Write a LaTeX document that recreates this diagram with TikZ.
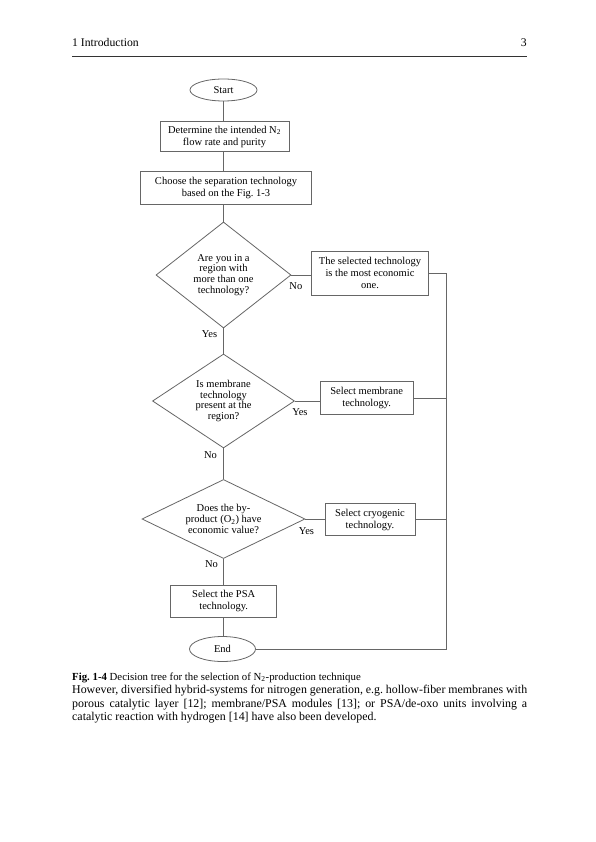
\documentclass[tikz,border=0pt]{standalone}
\usepackage{fontspec}
\setmainfont{Liberation Serif}
\frenchspacing
\usetikzlibrary{shapes.geometric,positioning}
\tikzset{
  flow/.style={draw=gray!80!black, line width=0.8pt},
  procbox/.style={flow, rectangle, align=center, inner sep=1pt,
    font=\fontsize{10.5}{12}\selectfont},
  decision/.style={flow, diamond, align=center, inner sep=0pt,
    font=\fontsize{10.5}{10.8}\selectfont},
  terminal/.style={flow, ellipse, inner sep=0pt,
    font=\fontsize{10.5}{12}\selectfont},
  answer/.style={inner sep=0pt, font=\fontsize{10.5}{12}\selectfont},
  pagetext/.style={inner sep=0pt, anchor=base west}
}
\begin{document}
\begin{tikzpicture}[x=1pt, y=-1pt]
    \useasboundingbox[fill=white] (0,0) rectangle (595,842);
    % running head
    \node[pagetext, font=\fontsize{11.7}{13}\selectfont] (head) at (72,47) {1 Introduction};
    \node[pagetext, anchor=base east, font=\fontsize{11.7}{13}\selectfont] (pageno) at (527,47) {3};
    \draw[line width=0.8pt, gray!40!black] (72,56) -- (527,56);
    % flowchart
    \node[terminal, minimum width=67pt, minimum height=22pt] (start) at (223.5,90) {Start};
    \node[procbox, minimum width=129pt, minimum height=30pt] (intent) at (224.5,136.7)
        {Determine the intended N\textsubscript{2}\\flow rate and purity};
    \node[procbox, minimum width=171pt, minimum height=33pt] (choose) at (226,188.3)
        {Choose the separation technology\\based on the Fig. 1-3};
    \node[decision, aspect=1.27, minimum width=135pt, minimum height=106pt] (region) at (223.5,275)
        {Are you in a\\region with\\more than one\\technology?};
    \node[procbox, minimum width=117pt, minimum height=44pt] (econ) at (370,273)
        {The selected technology\\is the most economic\\one.};
    \node[decision, aspect=1.48, minimum width=142pt, minimum height=94pt] (membq) at (223.5,401)
        {Is membrane\\technology\\present at the\\region?};
    \node[procbox, minimum width=93pt, minimum height=33pt] (memb) at (366.7,398.3)
        {Select membrane\\technology.};
    \node[decision, aspect=2.06, minimum width=163pt, minimum height=79pt] (byprod) at (223.5,519)
        {Does the by-\\product (O\textsubscript{2}) have\\economic value?};
    \node[procbox, minimum width=90pt, minimum height=32pt] (cryo) at (370,519.5)
        {Select cryogenic\\technology.};
    \node[procbox, minimum width=106pt, minimum height=32pt] (psa) at (223.7,601)
        {Select the PSA\\technology.};
    \node[terminal, minimum width=66pt, minimum height=25pt] (end) at (222.5,649) {End};
    \coordinate (bus) at (446,273);
    % connectors
    \draw[flow] (start.south) -- (start.south |- intent.north);
    \draw[flow] (start.south |- intent.south) -- (start.south |- choose.north);
    \draw[flow] (region.north |- choose.south) -- (region.north);
    \draw[flow] (region.east) -- (econ.west |- region.east);
    \draw[flow] (region.south) -- (membq.north);
    \draw[flow] (membq.east) -- (memb.west |- membq.east);
    \draw[flow] (membq.south) -- (byprod.north);
    \draw[flow] (byprod.east) -- (cryo.west |- byprod.east);
    \draw[flow] (byprod.south) -- (byprod.south |- psa.north);
    \draw[flow] (byprod.south |- psa.south) -- (byprod.south |- end.north);
    \draw[flow] (econ.east) -- (bus) |- (end.east);
    \draw[flow] (memb.east) -- (memb.east -| bus);
    \draw[flow] (cryo.east) -- (cryo.east -| bus);
    % answers
    \node[answer] (no1) at ([xshift=4.5pt,yshift=-11pt]region.east) {No};
    \node[answer] (yes1) at ([xshift=-14pt,yshift=-6pt]region.south) {Yes};
    \node[answer] (yes2) at ([xshift=5pt,yshift=-11pt]membq.east) {Yes};
    \node[answer] (no2) at ([xshift=-13pt,yshift=-7pt]membq.south) {No};
    \node[answer] (yes3) at ([xshift=1pt,yshift=-12pt]byprod.east) {Yes};
    \node[answer] (no3) at ([xshift=-12pt,yshift=-5pt]byprod.south) {No};
    % caption and body text
    \node[pagetext, font=\fontsize{10.8}{12}\selectfont] (caption) at (72,680)
        {\textbf{Fig. 1-4} Decision tree for the selection of N\textsubscript{2}-production technique};
    \node[pagetext, font=\fontsize{11.9}{13.5}\selectfont] (line1) at (72,693.5)
        {\makebox[455pt][s]{However, diversified hybrid-systems for nitrogen generation, e.g. hollow-fiber membranes with}};
    \node[pagetext, font=\fontsize{11.9}{13.5}\selectfont] (line2) at (72,707)
        {\makebox[455pt][s]{porous catalytic layer [12]; membrane/PSA modules [13]; or PSA/de-oxo units involving a}};
    \node[pagetext, font=\fontsize{11.9}{13.5}\selectfont] (line3) at (72,720.5)
        {catalytic reaction with hydrogen [14] have also been developed.};
\end{tikzpicture}
\end{document}
